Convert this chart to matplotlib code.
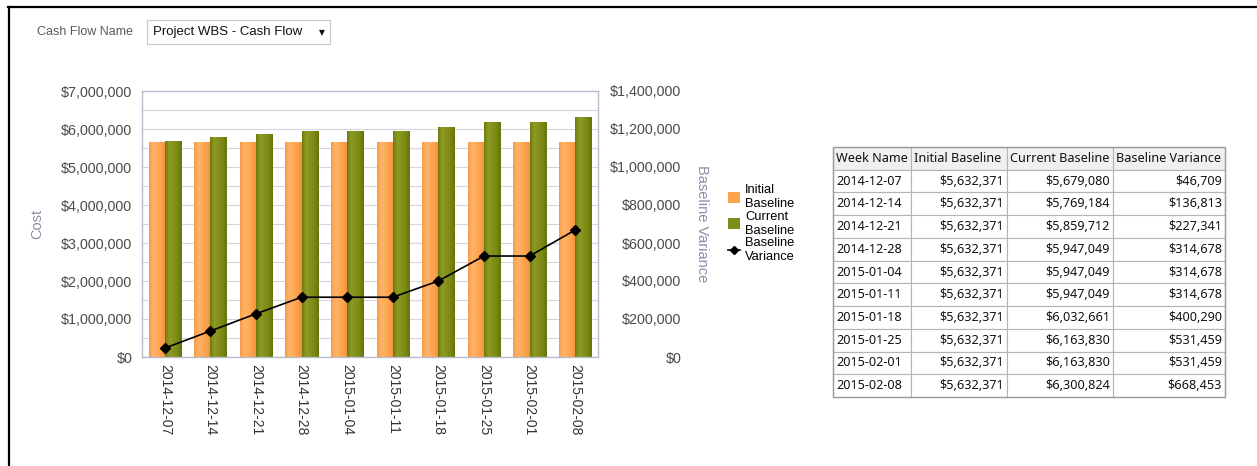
import matplotlib
matplotlib.use("Agg")
import matplotlib.pyplot as plt
import numpy as np
from matplotlib.lines import Line2D
from matplotlib.patches import Patch, Rectangle
from matplotlib.ticker import FuncFormatter, MultipleLocator
from matplotlib.colors import LinearSegmentedColormap

# ---------------- data ----------------
weeks = ["2014-12-07", "2014-12-14", "2014-12-21", "2014-12-28", "2015-01-04",
         "2015-01-11", "2015-01-18", "2015-01-25", "2015-02-01", "2015-02-08"]
initial_baseline = [5632371, 5632371, 5632371, 5632371, 5632371,
                    5632371, 5632371, 5632371, 5632371, 5632371]
current_baseline = [5679080, 5769184, 5859712, 5947049, 5947049,
                    5947049, 6032661, 6163830, 6163830, 6300824]
baseline_variance = [46709, 136813, 227341, 314678, 314678,
                     314678, 400290, 531459, 531459, 668453]
table_headers = ["Week Name", "Initial Baseline", "Current Baseline", "Baseline Variance"]

# ---------------- style ----------------
W, H = 1257, 466
fig = plt.figure(figsize=(W / 100, H / 100), dpi=100)
fig.patch.set_facecolor("white")

AX_FONT = "Liberation Sans"
TB_FONT = "Noto Sans"
tick_color = "#4a4a4a"
axis_label_color = "#8c8ca8"

def fx(px):
    return px / W

def fy(py):
    return 1 - py / H

# outer frame (top + left lines)
fig.add_artist(Line2D([fx(8), fx(W)], [fy(7), fy(7)], color="black", lw=1.6))
fig.add_artist(Line2D([fx(9), fx(9)], [fy(7), fy(H)], color="black", lw=1.6))

# top control
fig.text(fx(37), fy(32), "Cash Flow Name", fontsize=9, color="#5a5a5a",
         family=AX_FONT, va="center", ha="left")
fig.add_artist(Rectangle((fx(147), fy(44)), fx(330) - fx(147), fy(20) - fy(44),
                         transform=fig.transFigure, facecolor="white",
                         edgecolor="#c8c8c8", lw=0.8))
fig.text(fx(153), fy(32), "Project WBS - Cash Flow", fontsize=9.5, color="#111111",
         family=AX_FONT, va="center", ha="left")
fig.text(fx(322), fy(33), "\u25BC", fontsize=5.5, color="#111111",
         family="DejaVu Sans", va="center", ha="center")

# ---------------- chart ----------------
left, right, top, bottom = 142, 598, 91, 357
ax = fig.add_axes([fx(left), fy(bottom), fx(right) - fx(left), fy(top) - fy(bottom)])
ax2 = ax.twinx()

x = np.arange(len(weeks))
bw = 0.355
orange_cmap = LinearSegmentedColormap.from_list(
    "o", ["#f79a45", "#ffb46a", "#ffab58", "#fda04b", "#f3903a"])
green_cmap = LinearSegmentedColormap.from_list(
    "g", ["#6c7a0c", "#8e9c25", "#84921c", "#7a8814", "#66730a"])

bars1 = ax.bar(x - bw / 2, initial_baseline, width=bw, color="#ffa34d",
               edgecolor="none", zorder=2)
bars2 = ax.bar(x + bw / 2, current_baseline, width=bw, color="#7f8c17",
               edgecolor="none", zorder=2)
grad = np.linspace(0, 1, 64).reshape(1, -1)
for bars, cmap in ((bars1, orange_cmap), (bars2, green_cmap)):
    for p in bars:
        x0, w, h = p.get_x(), p.get_width(), p.get_height()
        ax.imshow(grad, cmap=cmap, extent=(x0, x0 + w, 0, h), aspect="auto",
                  zorder=2.5, interpolation="bicubic")

ax.set_xlim(-0.5, len(weeks) - 0.5)
ax.set_ylim(0, 7000000)
ax.yaxis.set_major_locator(MultipleLocator(1000000))
ax.yaxis.set_minor_locator(MultipleLocator(500000))
ax.yaxis.set_major_formatter(FuncFormatter(lambda v, p: f"${v:,.0f}"))
ax.grid(axis="y", which="both", color="#d4d6e0", lw=0.8, zorder=0)
ax.set_axisbelow(True)
ax.set_xticks(x)
ax.set_xticklabels(weeks, rotation=-90, fontsize=10, color="#333333", family=AX_FONT)
ax.tick_params(axis="x", length=0, pad=5)
ax.tick_params(axis="y", which="both", length=0, pad=7, labelsize=10.3, labelcolor=tick_color)
for lab in ax.get_yticklabels():
    lab.set_family(AX_FONT)
for s in ax.spines.values():
    s.set_color("#b8bccc")
    s.set_linewidth(1.0)
ax.set_ylabel("Cost", fontsize=10.5, color=axis_label_color, family=AX_FONT, labelpad=12)

ax2.plot(x, baseline_variance, color="black", lw=1.2, marker="D", markersize=5,
         zorder=5)
ax2.set_ylim(0, 1400000)
ax2.yaxis.set_major_locator(MultipleLocator(200000))
ax2.yaxis.set_major_formatter(FuncFormatter(lambda v, p: f"${v:,.0f}"))
ax2.tick_params(axis="y", length=0, pad=60, labelsize=10.3, labelcolor=tick_color)
for lab in ax2.get_yticklabels():
    lab.set_family(AX_FONT)
    lab.set_horizontalalignment("right")
for s in ax2.spines.values():
    s.set_visible(False)
ax2.set_ylabel("Baseline Variance", fontsize=10.5, color=axis_label_color,
               family=AX_FONT, rotation=-90, labelpad=10, va="bottom")

# legend
handles = [Patch(facecolor="#ffa34d", edgecolor="none"),
           Patch(facecolor="#7f8c17", edgecolor="none"),
           Line2D([0], [0], color="black", lw=1.2, marker="D", markersize=4)]
labels = ["Initial\nBaseline", "Current\nBaseline", "Baseline\nVariance"]
fig.legend(handles, labels, loc="upper left", bbox_to_anchor=(fx(722), fy(178)),
           frameon=False, handlelength=0.9, handleheight=0.9,
           handletextpad=0.4, labelspacing=0.05, borderpad=0,
           prop={"family": AX_FONT, "size": 9.3})

# ---------------- table ----------------
col_edges = [833, 911, 1007, 1113, 1225]
tb_top, tb_bottom = 147, 397
tax = fig.add_axes([fx(col_edges[0]), fy(tb_bottom), fx(col_edges[-1]) - fx(col_edges[0]),
                    fy(tb_top) - fy(tb_bottom)])
tax.set_xlim(col_edges[0], col_edges[-1])
tax.set_ylim(tb_bottom, tb_top)
tax.axis("off")
nrows = len(weeks) + 1
rh = (tb_bottom - tb_top) / nrows

def money(v):
    return f"${v:,}"

rows = [table_headers] + [[w, money(a), money(b), money(c)] for w, a, b, c in
                           zip(weeks, initial_baseline, current_baseline, baseline_variance)]
for r, row in enumerate(rows):
    y0 = tb_top + r * rh
    for c, val in enumerate(row):
        x0, x1 = col_edges[c], col_edges[c + 1]
        fc = "#f0f0f0" if r == 0 else "white"
        tax.add_patch(Rectangle((x0, y0), x1 - x0, rh, facecolor=fc,
                                edgecolor="#b4b4b4", lw=0.8, clip_on=False))
        if r == 0 or c == 0:
            tax.text(x0 + 3, y0 + rh / 2, val, ha="left", va="center",
                     fontsize=9.1, family=TB_FONT, color="#111111")
        else:
            tax.text(x1 - 3, y0 + rh / 2, val, ha="right", va="center",
                     fontsize=9.1, family=TB_FONT, color="#111111")
tax.add_patch(Rectangle((col_edges[0], tb_top), col_edges[-1] - col_edges[0],
                        tb_bottom - tb_top, facecolor="none", edgecolor="#9a9a9a",
                        lw=1.0, clip_on=False))

fig.savefig("out.png", dpi=100)
